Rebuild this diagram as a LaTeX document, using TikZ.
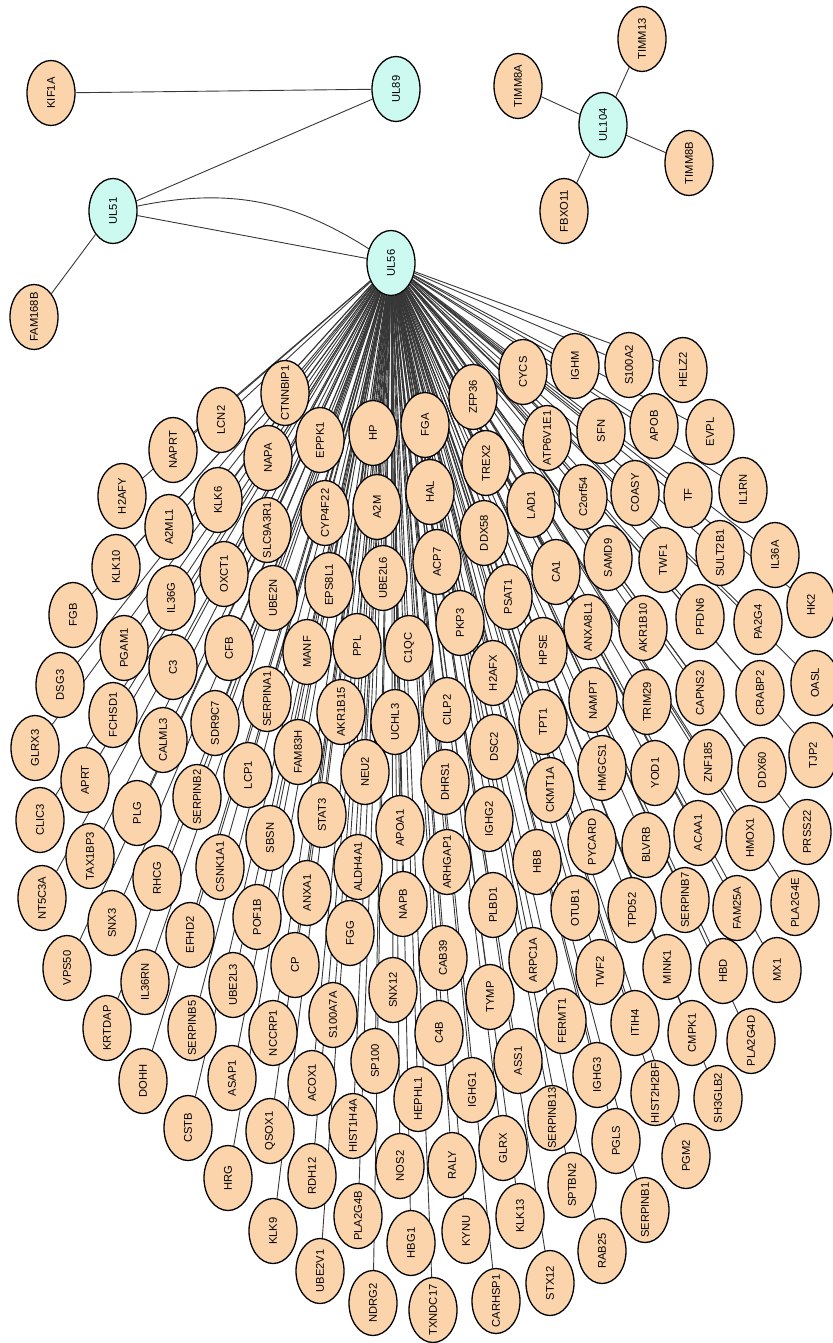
\documentclass[tikz,border=0pt]{standalone}
\usepackage{fontspec}
\setmainfont{Liberation Sans}
\usepackage{tikz}
\usetikzlibrary{shapes.geometric, backgrounds}
\definecolor{genepeach}{RGB}{251,212,172}
\definecolor{vircyan}{RGB}{204,250,240}
\definecolor{edgegray}{RGB}{55,55,55}

\begin{document}
\begin{tikzpicture}[
    x=0.5pt, y=-0.5pt,
    gene/.style={ellipse, draw=black, line width=0.65pt, fill=genepeach, rotate=90,
                 minimum width=32.5pt, minimum height=24pt, inner sep=0pt,
                 font=\fontsize{5.6}{6}\selectfont},
    virus/.style={gene, fill=vircyan},
    edge/.style={edgegray, line width=0.45pt},
]
    \useasboundingbox (0,0) rectangle (832,1343);

    % viral proteins
    \node[virus] (UL89)  at (396,89)  {\makebox[0pt]{UL89}};
    \node[virus] (UL51)  at (113,211) {\makebox[0pt]{UL51}};
    \node[virus] (UL56)  at (391,263) {\makebox[0pt]{UL56}};
    \node[virus] (UL104) at (603,125) {\makebox[0pt]{UL104}};

    \node[gene] (KIF1A)   at (51,93)   {\makebox[0pt]{KIF1A}};
    \node[gene] (FAM168B) at (34,317)  {\makebox[0pt]{FAM168B}};
    \node[gene] (TIMM13)  at (642,39)  {\makebox[0pt]{TIMM13}};
    \node[gene] (TIMM8A)  at (518,86)  {\makebox[0pt]{TIMM8A}};
    \node[gene] (TIMM8B)  at (689,163) {\makebox[0pt]{TIMM8B}};
    \node[gene] (FBXO11)  at (564,211) {\makebox[0pt]{FBXO11}};

    \begin{scope}[on background layer]
        \draw[edge] (KIF1A) -- (UL89);
        \draw[edge] (UL51) -- (UL89);
        \draw[edge] (UL51) -- (UL56);
        \draw[edge] (UL51) to[bend left=22] (UL56);
        \draw[edge] (UL51) -- (FAM168B);
        \foreach \t in {TIMM13, TIMM8A, TIMM8B, FBXO11}
            \draw[edge] (UL104) -- (\t);
    \end{scope}

    % UL56 partners
    \foreach \n/\x/\y in {
        CTNNBIP1/285/393, LCN2/221/420, NAPRT/173/450, H2AFY/122/496, NAPA/268/458,
        EPPK1/320/440, HP/373/433, KLK6/218/500, A2ML1/169/527, SLC9A3R1/267/530,
        CYP4F22/325/513, A2M/377/507, KLK10/116/567, IL36G/171/598, OXCT1/224/574,
        UBE2N/273/598, EPS8L1/329/585, UBE2L6/383/578, FGB/73/615, PGAM1/124/648,
        CFB/229/648, MANF/307/652, PPL/357/646, C1QC/409/648, CYCS/523/372,
        IGHM/575/366, S100A2/629/365, HELZ2/683/370, ZFP36/473/397, FGA/425/425,
        ATP6V1E1/547/438, SFN/601/431, APOB/654/426, EVPL/710/432, TREX2/486/463,
        HAL/430/492, LAD1/531/505, C2orf54/583/497, COASY/635/493, TF/688/495,
        IL1RN/743/490, DDX58/484/533, ACP7/437/562, CA1/556/572, SAMD9/608/558,
        TWF1/663/560, SULT2B1/720/553, IL36A/775/555, PSAT1/508/597, PKP3/460/623,
        ANXA8L1/588/627, AKR1B10/643/628, PFDN6/700/617, PA2G4/758/622, HK2/811/605,
        HPSE/543/650, DSG3/60/685, C3/173/667, FCHSD1/113/715, SERPINA1/267/699,
        AKR1B15/341/712, UCHL3/395/722, GLRX3/35/748, CALML3/163/740, SDR9C7/215/723,
        FAM83H/298/752, APRT/85/780, LCP1/248/775, NEU2/365/772, PLG/137/813,
        SERPINB2/197/797, STAT3/322/815, CLIC3/40/820, SBSN/270/838, APOA1/400/828,
        TAX1BP3/90/856, CSNK1A1/220/867, ALDH4A1/358/867, RHCG/157/878, NT5C3A/42/898,
        ANXA1/307/893, NAPB/403/904, SNX3/112/923, POF1B/257/917, EFHD2/190/935,
        FGG/350/933, VPS50/67/968, IL36RN/145/982, UBE2L3/233/985, CP/295/965,
        SNX12/393/990, H2AFX/493/673, CAPNS2/700/693, CRABP2/760/693, OASL/815/683,
        CILP2/447/710, NAMPT/593/700, TRIM29/647/702, TPT1/543/722, DSC2/494/747,
        ZNF185/708/762, DDX60/762/770, TJP2/813/755, HMGCS1/602/768, YOD1/655/773,
        DHRS1/445/782, CKMT1A/550/790, IGHG2/489/819, ACAA1/698/833, PYCARD/592/842,
        BLVRB/646/845, HMOX1/750/838, PRSS22/807/832, ARHGAP1/447/862, HBB/537/862,
        PLBD1/493/905, OTUB1/575/908, TPD52/632/910, SERPINB7/685/900, FAM25A/737/908,
        PLA2G4E/795/903, CAB39/443/958, ARPC1A/533/960, TWF2/600/972, MINK1/667/967,
        HBD/723/971, MX1/777/970, TYMP/490/997, KRTDAP/107/1028, SERPINB5/192/1028,
        NCCRP1/273/1033, S100A7A/333/1015, DOHH/143/1081, ASAP1/232/1078, ACOX1/312/1083,
        SP100/375/1061, CSTB/188/1128, QSOX1/270/1131, HIST1H4A/353/1126, HEPHL1/418/1099,
        NOS2/400/1166, HRG/228/1178, RDH12/312/1176, PLA2G4B/358/1216, KLK9/273/1231,
        HBG1/411/1243, UBE2V1/320/1271, NDRG2/373/1303, C4B/439/1033, FERMT1/562/1021,
        ITIH4/635/1023, CMPK1/692/1033, PLA2G4D/751/1041, IGHG1/472/1090, ASS1/518/1061,
        IGHG3/597/1075, HIST2H2BF/655/1093, SH3GLB2/718/1098, SERPINB13/552/1118,
        RALY/452/1165, GLRX/503/1148, PGLS/616/1141, PGM2/686/1156, SPTBN2/572/1185,
        SERPINB1/645/1210, KYNU/466/1231, KLK13/520/1216, RAB25/602/1251, STX12/550/1283,
        CARHSP1/496/1301, TXNDC17/433/1310} {
        \node[gene] (\n) at (\x,\y) {\makebox[0pt]{\n}};
        \begin{scope}[on background layer]
            \draw[edge] (UL56) -- (\n);
        \end{scope}
    }
\end{tikzpicture}
\end{document}
